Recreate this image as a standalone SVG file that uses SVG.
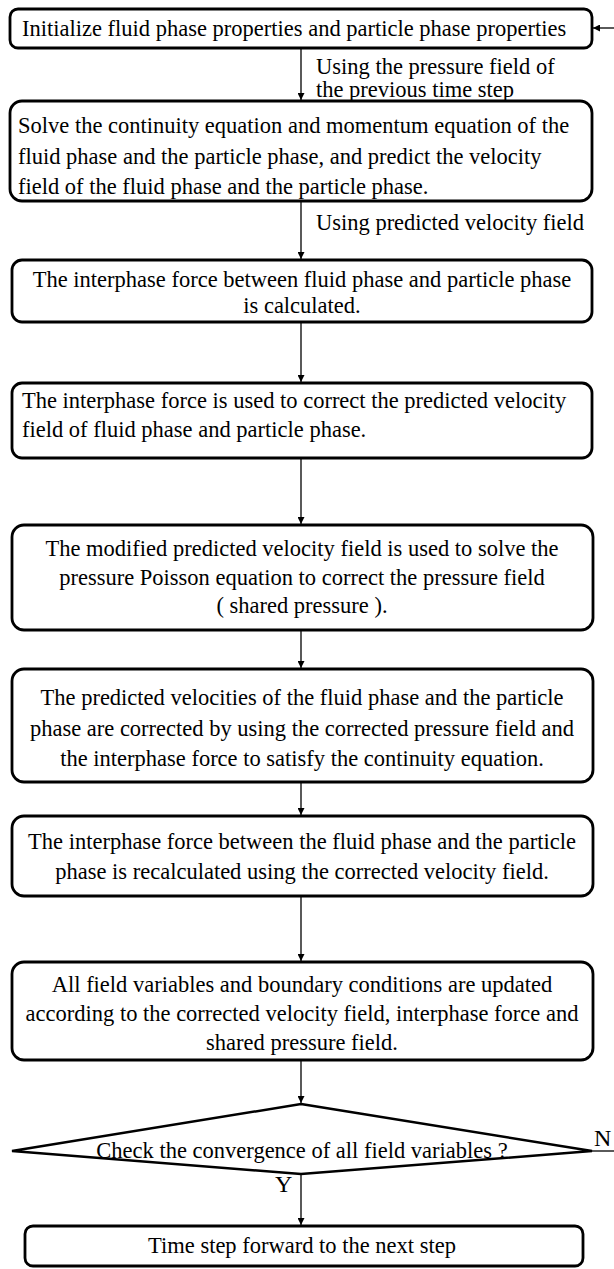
<svg xmlns="http://www.w3.org/2000/svg" width="614" height="1269" viewBox="0 0 614 1269">
<defs>
<marker id="ah" viewBox="0 0 10 10" refX="10" refY="5" markerWidth="7" markerHeight="7" markerUnits="userSpaceOnUse" orient="auto">
<path d="M0,0 L10,5 L0,10 z" fill="#000"/>
</marker>
<style>
.box{fill:#fff;stroke:#000;stroke-width:2.8}
.t{font-family:"Liberation Serif","Times New Roman",serif;font-size:22.5px;fill:#000}
.c{text-anchor:middle}
.ln{stroke:#000;stroke-width:1.3;fill:none}
</style>
</defs>
<rect width="614" height="1269" fill="#fff"/>
<g id="connectors">
<line class="ln" x1="614" y1="28" x2="593" y2="28" marker-end="url(#ah)"/>
<line class="ln" x1="301" y1="48" x2="301" y2="100" marker-end="url(#ah)"/>
<line class="ln" x1="301" y1="201" x2="301" y2="259" marker-end="url(#ah)"/>
<line class="ln" x1="301" y1="322" x2="301" y2="382" marker-end="url(#ah)"/>
<line class="ln" x1="301" y1="458" x2="301" y2="524" marker-end="url(#ah)"/>
<line class="ln" x1="301" y1="630" x2="301" y2="668" marker-end="url(#ah)"/>
<line class="ln" x1="301" y1="782" x2="301" y2="815" marker-end="url(#ah)"/>
<line class="ln" x1="301" y1="896" x2="301" y2="961" marker-end="url(#ah)"/>
<line class="ln" x1="301" y1="1060" x2="301" y2="1103" marker-end="url(#ah)"/>
<line class="ln" x1="301" y1="1174" x2="301" y2="1225" marker-end="url(#ah)"/>
<line class="ln" x1="592" y1="1151" x2="614" y2="1151"/>
<text class="t" x="316" y="74">Using the pressure field of</text>
<text class="t" x="316" y="97">the previous time step</text>
<text class="t" x="316" y="230">Using predicted velocity field</text>
<text class="t" x="594" y="1146" style="font-size:24px">N</text>
<text class="t" x="275" y="1192" style="font-size:24px">Y</text>
</g>
<g id="n1">
<rect class="box" x="10" y="9" width="582" height="39" rx="8"/>
<text class="t" x="22" y="36">Initialize fluid phase properties and particle phase properties</text>
</g>
<g id="n2">
<rect class="box" x="10" y="101" width="582" height="100" rx="12"/>
<text class="t" x="18" y="133">Solve the continuity equation and momentum equation of the</text>
<text class="t" x="18" y="164">fluid phase and the particle phase, and predict the velocity</text>
<text class="t" x="18" y="194">field of the fluid phase and the particle phase.</text>
</g>
<g id="n3">
<rect class="box" x="12" y="260" width="580" height="62" rx="10"/>
<text class="t c" x="302" y="287">The interphase force between fluid phase and particle phase</text>
<text class="t c" x="302" y="313">is calculated.</text>
</g>
<g id="n4">
<rect class="box" x="12" y="383" width="580" height="75" rx="10"/>
<text class="t" x="22" y="408">The interphase force is used to correct the predicted velocity</text>
<text class="t" x="22" y="437">field of fluid phase and particle phase.</text>
</g>
<g id="n5">
<rect class="box" x="12" y="525" width="581" height="105" rx="12"/>
<text class="t c" x="302" y="556">The modified predicted velocity field is used to solve the</text>
<text class="t c" x="302" y="585">pressure Poisson equation to correct the pressure field</text>
<text class="t c" x="302" y="613">( shared pressure ).</text>
</g>
<g id="n6">
<rect class="box" x="12" y="669" width="581" height="113" rx="12"/>
<text class="t c" x="302" y="705">The predicted velocities of the fluid phase and the particle</text>
<text class="t c" x="302" y="736">phase are corrected by using the corrected pressure field and</text>
<text class="t c" x="302" y="766">the interphase force to satisfy the continuity equation.</text>
</g>
<g id="n7">
<rect class="box" x="12" y="816" width="581" height="80" rx="12"/>
<text class="t c" x="302" y="849">The interphase force between the fluid phase and the particle</text>
<text class="t c" x="302" y="879">phase is recalculated using the corrected velocity field.</text>
</g>
<g id="n8">
<rect class="box" x="12" y="962" width="581" height="98" rx="12"/>
<text class="t c" x="302" y="992">All field variables and boundary conditions are updated</text>
<text class="t c" x="302" y="1021">according to the corrected velocity field, interphase force and</text>
<text class="t c" x="302" y="1050">shared pressure field.</text>
</g>
<g id="n9">
<polygon class="box" points="301,1104 592,1151 301,1174 12,1151" style="stroke-width:2.5"/>
<text class="t c" x="302" y="1158">Check the convergence of all field variables ?</text>
</g>
<g id="n10">
<rect class="box" x="25" y="1226" width="558" height="40" rx="8"/>
<text class="t c" x="302" y="1253">Time step forward to the next step</text>
</g>
</svg>
